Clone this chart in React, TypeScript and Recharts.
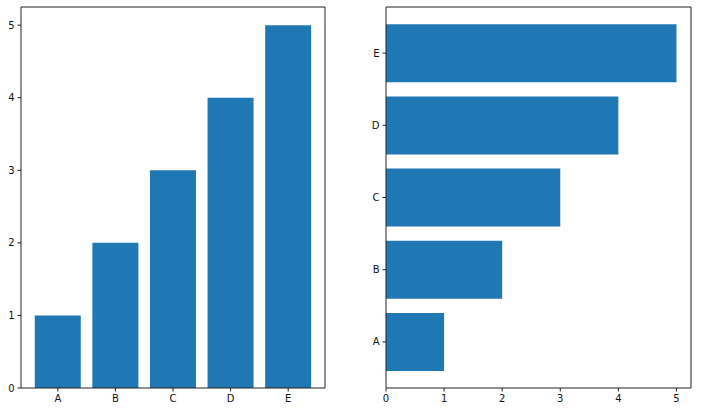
import { Bar, BarChart, CartesianGrid, XAxis, YAxis } from "recharts";

const categories = ["A", "B", "C", "D", "E"];
const values = [1, 2, 3, 4, 5];
const valueTicks = [0, 1, 2, 3, 4, 5];

const chartData = categories.map((name, i) => ({ name, value: values[i] }));

const BLUE = "#1f77b4";
const SPINE = "#222";
const tickStyle = { fontSize: 10, fill: "#111", fontFamily: "DejaVu Sans" };

// top and right spines, drawn as a grid with one line each at the plot edges
function Spines() {
  return (
    <CartesianGrid
      stroke={SPINE}
      strokeDasharray="0"
      horizontalCoordinatesGenerator={({ offset }: any) => [offset.top]}
      verticalCoordinatesGenerator={({ offset }: any) => [offset.left + offset.width]}
    />
  );
}

function VerticalBars() {
  return (
    <BarChart
      width={352}
      height={412}
      data={chartData}
      margin={{ top: 7, right: 27, bottom: 0, left: 0 }}
      barCategoryGap="10%"
    >
      {Spines()}
      <XAxis
        dataKey="name"
        height={24}
        padding={{ left: 8, right: 8 }}
        tick={tickStyle}
        tickSize={3.5}
        tickMargin={3}
        stroke={SPINE}
        tickLine={{ stroke: SPINE }}
      />
      <YAxis
        type="number"
        domain={[0, 5.25]}
        ticks={valueTicks}
        width={21}
        tick={tickStyle}
        tickSize={3.5}
        tickMargin={3}
        stroke={SPINE}
        tickLine={{ stroke: SPINE }}
      />
      <Bar dataKey="value" fill={BLUE} isAnimationActive={false} />
    </BarChart>
  );
}

function HorizontalBars() {
  return (
    <BarChart
      width={352}
      height={412}
      data={chartData}
      layout="vertical"
      margin={{ top: 7, right: 13, bottom: 0, left: 0 }}
      barCategoryGap="10%"
    >
      {Spines()}
      <XAxis
        type="number"
        domain={[0, 5.25]}
        ticks={valueTicks}
        height={24}
        tick={tickStyle}
        tickSize={3.5}
        tickMargin={3}
        stroke={SPINE}
        tickLine={{ stroke: SPINE }}
      />
      <YAxis
        type="category"
        dataKey="name"
        reversed
        width={34}
        padding={{ top: 10, bottom: 10 }}
        tick={tickStyle}
        tickSize={3.5}
        tickMargin={3}
        stroke={SPINE}
        tickLine={{ stroke: SPINE }}
      />
      <Bar dataKey="value" fill={BLUE} isAnimationActive={false} />
    </BarChart>
  );
}

export default function App() {
  return (
    <div style={{ position: "absolute", top: 0, left: 0, width: 704, height: 412, background: "#fff", display: "flex" }}>
      <VerticalBars />
      <HorizontalBars />
    </div>
  );
}
